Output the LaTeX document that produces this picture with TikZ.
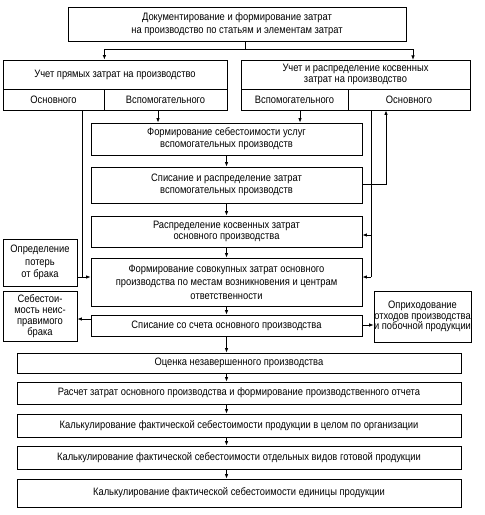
\documentclass[tikz,border=0pt]{standalone}
\usepackage{fontspec}
\setmainfont{Liberation Sans}[FakeStretch=0.87]
\usetikzlibrary{arrows.meta,calc}
\begin{document}
\begin{tikzpicture}[x=1bp,y=-1bp,
  box/.style={draw, line width=0.8bp, rectangle, inner sep=1bp, align=center, font=\fontsize{10.8}{11.8}\selectfont},
  lsp/.style={font=\fontsize{10.8}{#1}\selectfont},
  arr/.style={-{Latex[length=4.5bp,width=3.5bp]}, line width=0.8bp},
  ln/.style={line width=0.8bp}]
\useasboundingbox (0,0) rectangle (485,515);
\fill[white] (0,0) rectangle (485,515);
% top
\node[box, lsp=12.6, minimum width=338bp, minimum height=34bp] (top) at (237,24) {Документирование и формирование затрат\\на производство по статьям и элементам затрат};
% left group
\node[box, minimum width=224bp, minimum height=29bp] (lt) at (115,74.5) {Учет прямых затрат на производство};
\node[box, minimum width=101bp, minimum height=21bp] (lo) at (53.5,99.5) {Основного};
\node[box, minimum width=123bp, minimum height=21bp] (lv) at (165.5,99.5) {Вспомогательного};
% right group
\node[box, minimum width=229bp, minimum height=29bp] (rt) at (355.5,74.5) {Учет и распределение косвенных\\затрат на производство};
\node[box, minimum width=107bp, minimum height=21bp] (rv) at (294.5,99.5) {Вспомогательного};
\node[box, minimum width=122bp, minimum height=21bp] (ro) at (409,99.5) {Основного};
% middle column
\node[box, minimum width=271bp, minimum height=32bp] (b4) at (226.5,139) {Формирование себестоимости услуг\\вспомогательных производств};
\node[box, minimum width=271bp, minimum height=36bp] (b5) at (226.5,185) {Списание и распределение затрат\\вспомогательных производств};
\node[box, minimum width=271bp, minimum height=31bp] (b6) at (226.5,231.5) {Распределение косвенных затрат\\основного производства};
\node[box, lsp=13.4, minimum width=271bp, minimum height=48bp] (b7) at (226.5,282) {Формирование совокупных затрат основного\\производства по местам возникновения и центрам\\ответственности};
\node[box, lsp=12.5, minimum width=74bp, minimum height=47bp] (def) at (40,262.5) {Определение\\потерь\\от брака};
\node[box, lsp=11, minimum width=74bp, minimum height=50bp] (seb) at (40,316) {Себестои-\\мость неис-\\правимого\\брака};
\node[box, minimum width=271bp, minimum height=21bp] (b10) at (226.5,325.5) {Списание со счета основного производства};
\node[box, lsp=10.8, minimum width=93bp, minimum height=51bp, inner sep=0pt] (opr) at (422.5,316.5) {Оприходование\\отходов производства\\и побочной продукции};
% bottom column
\node[box, minimum width=444bp, minimum height=20bp] (b12) at (239,363) {Оценка незавершенного производства};
\node[box, minimum width=444bp, minimum height=22bp] (b13) at (239,393) {Расчет затрат основного производства и формирование производственного отчета};
\node[box, minimum width=444bp, minimum height=23bp] (b14) at (239,425.5) {Калькулирование фактической себестоимости продукции в целом по организации};
\node[box, minimum width=444bp, minimum height=23bp] (b15) at (239,457.5) {Калькулирование фактической себестоимости отдельных видов готовой продукции};
\node[box, minimum width=444bp, minimum height=28bp] (b16) at (239,493) {Калькулирование фактической себестоимости единицы продукции};
% connectors from top
\coordinate (split) at (245,49);
\draw[ln] (top.south -| split) -- (split);
\draw[arr] (split) -| (lt.north -| lo.east);
\draw[arr] (split) -| (413,60);
% left cells
\coordinate (lbend) at (82,277);
\draw[ln] (lo.south -| lbend) -- (lbend);
\draw[arr] (def.east |- lbend) -- (b7.west |- lbend);
\draw[arr] (lv.south -| 158,0) -- (b4.north -| 158,0);
\draw[arr] (rv.south -| 300,0) -- (b4.north -| 300,0);
% right main line
\coordinate (rline) at (371,277);
\draw[ln] (ro.south -| rline) -- (rline);
\draw[arr] (371,235) -- (b6.east |- 0,235);
\draw[arr] (rline) -- (b7.east |- rline);
% return from b5
\coordinate (rret) at (386,184);
\draw[arr] (b5.east |- rret) -- (rret) -- (ro.south -| rret);
% middle chain
\draw[arr] (b4.south) -- (b5.north);
\draw[arr] (b5.south) -- (b6.north);
\draw[arr] (b6.south) -- (b7.north);
\draw[arr] (b7.south) -- (b10.north);
\draw[arr] (b10.south) -- (b12.north -| b10.south);
\draw[arr] (b12.south -| b10.south) -- (b13.north -| b10.south);
\draw[arr] (b13.south -| b10.south) -- (b14.north -| b10.south);
\draw[arr] (b14.south -| b10.south) -- (b15.north -| b10.south);
\draw[arr] (b15.south -| b10.south) -- (b16.north -| b10.south);
% side outputs
\draw[arr] (b10.west |- 0,319) -- (seb.east |- 0,319);
\draw[arr] (b10.east |- 0,325) -- (opr.west |- 0,325);
\end{tikzpicture}
\end{document}
